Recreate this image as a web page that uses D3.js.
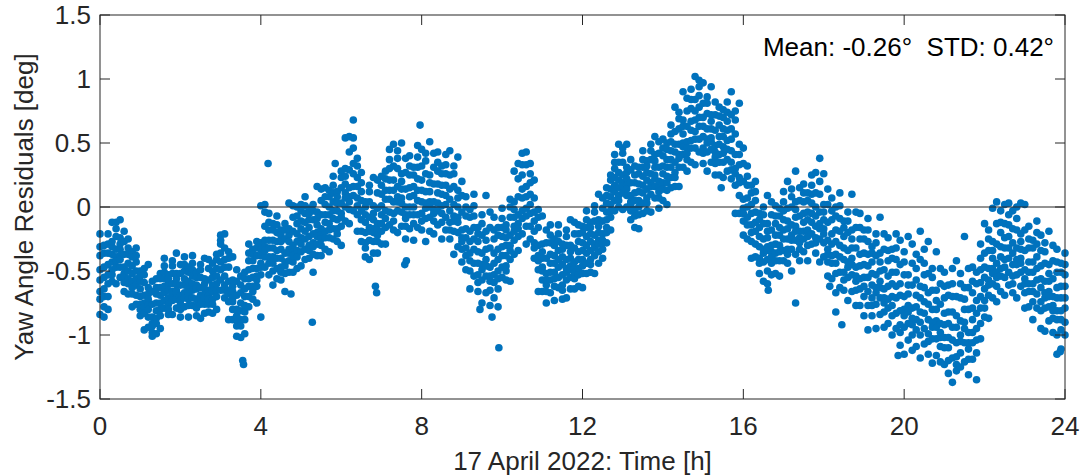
<!DOCTYPE html>
<html><head><meta charset="utf-8">
<script src="https://cdn.jsdelivr.net/npm/d3@7/dist/d3.min.js"></script>
<style>body{margin:0;background:#fff}svg{display:block}text{font-family:"Liberation Sans",Arial,sans-serif;fill:#262626}</style>
</head><body><svg id="c" width="1092" height="475"></svg>
<script>
const xTicks = [0,4,8,12,16,20,24];
const yTicks = [-1.5,-1,-0.5,0,0.5,1,1.5];
const yTickLabels = ["-1.5","-1","-0.5","0","0.5","1","1.5"];
const xLabel = "17 April 2022: Time [h]";
const yLabel = "Yaw Angle Residuals [deg]";
const statsText = "Mean: -0.26°  STD: 0.42°";

const hours = [0.0,0.1,0.2,0.3,0.4,0.5,0.6,0.7,0.8,0.9,1.0,1.1,1.2,1.3,1.4,1.5,1.6,1.7,1.8,1.9,
2.0,2.1,2.2,2.3,2.4,2.5,2.6,2.7,2.8,2.9,3.0,3.1,3.2,3.3,3.4,3.5,3.6,3.7,3.8,3.9,
4.0,4.1,4.2,4.3,4.4,4.5,4.6,4.7,4.8,4.9,5.0,5.1,5.2,5.3,5.4,5.5,5.6,5.7,5.8,5.9,
6.0,6.1,6.2,6.3,6.4,6.5,6.6,6.7,6.8,6.9,7.0,7.1,7.2,7.3,7.4,7.5,7.6,7.7,7.8,7.9,
8.0,8.1,8.2,8.3,8.4,8.5,8.6,8.7,8.8,8.9,9.0,9.1,9.2,9.3,9.4,9.5,9.6,9.7,9.8,9.9,
10.0,10.1,10.2,10.3,10.4,10.5,10.6,10.7,10.8,10.9,11.0,11.1,11.2,11.3,11.4,11.5,11.6,11.7,11.8,11.9,
12.0,12.1,12.2,12.3,12.4,12.5,12.6,12.7,12.8,12.9,13.0,13.1,13.2,13.3,13.4,13.5,13.6,13.7,13.8,13.9,
14.0,14.1,14.2,14.3,14.4,14.5,14.6,14.7,14.8,14.9,15.0,15.1,15.2,15.3,15.4,15.5,15.6,15.7,15.8,15.9,
16.0,16.1,16.2,16.3,16.4,16.5,16.6,16.7,16.8,16.9,17.0,17.1,17.2,17.3,17.4,17.5,17.6,17.7,17.8,17.9,
18.0,18.1,18.2,18.3,18.4,18.5,18.6,18.7,18.8,18.9,19.0,19.1,19.2,19.3,19.4,19.5,19.6,19.7,19.8,19.9,
20.0,20.1,20.2,20.3,20.4,20.5,20.6,20.7,20.8,20.9,21.0,21.1,21.2,21.3,21.4,21.5,21.6,21.7,21.8,21.9,
22.0,22.1,22.2,22.3,22.4,22.5,22.6,22.7,22.8,22.9,23.0,23.1,23.2,23.3,23.4,23.5,23.6,23.7,23.8,23.9,24.0];

const residuals = [
[-0.21,-0.38,-0.49,-0.57,-0.66,-0.72,-0.84,-0.31],
[-0.30,-0.47,-0.55,-0.64,-0.36,-0.78,-0.86,-0.70],
[-0.21,-0.36,-0.45,-0.53,-0.60,-0.70,-0.80,-0.29],
[-0.12,-0.31,-0.37,-0.43,-0.49,-0.27,-0.58,-0.53],
[-0.12,-0.17,-0.23,-0.33,-0.39,-0.42,-0.47,-0.60],
[-0.10,-0.29,-0.33,-0.38,-0.47,-0.24,-0.55,-0.41],
[-0.27,-0.19,-0.37,-0.47,-0.52,-0.59,-0.54,-0.66],
[-0.25,-0.37,-0.44,-0.50,-0.56,-0.60,-0.68,-0.32],
[-0.35,-0.46,-0.52,-0.58,-0.39,-0.68,-0.78,-0.63],
[-0.32,-0.43,-0.50,-0.56,-0.61,-0.69,-0.76,-0.38],
[-0.50,-0.58,-0.64,-0.70,-0.76,-0.54,-0.85,-0.80],
[-0.48,-0.53,-0.59,-0.69,-0.75,-0.78,-0.83,-0.96],
[-0.45,-0.68,-0.72,-0.77,-0.86,-0.63,-0.94,-0.80],
[-0.66,-0.58,-0.76,-0.86,-0.91,-0.98,-0.93,-1.01],
[-0.56,-0.68,-0.75,-0.81,-0.87,-0.91,-0.99,-0.63],
[-0.52,-0.63,-0.69,-0.75,-0.56,-0.85,-0.95,-0.80],
[-0.40,-0.51,-0.56,-0.62,-0.67,-0.73,-0.79,-0.46],
[-0.53,-0.60,-0.65,-0.71,-0.76,-0.56,-0.84,-0.80],
[-0.42,-0.46,-0.52,-0.60,-0.66,-0.68,-0.73,-0.84],
[-0.36,-0.56,-0.60,-0.65,-0.72,-0.52,-0.79,-0.67],
[-0.52,-0.45,-0.61,-0.69,-0.73,-0.80,-0.76,-0.86],
[-0.39,-0.50,-0.56,-0.61,-0.67,-0.71,-0.78,-0.45],
[-0.47,-0.58,-0.63,-0.68,-0.51,-0.77,-0.86,-0.72],
[-0.38,-0.49,-0.54,-0.60,-0.65,-0.71,-0.77,-0.44],
[-0.51,-0.61,-0.64,-0.72,-0.77,-0.55,-0.85,-0.79],
[-0.45,-0.49,-0.55,-0.63,-0.69,-0.71,-0.76,-0.87],
[-0.40,-0.60,-0.64,-0.69,-0.76,-0.56,-0.83,-0.71],
[-0.48,-0.41,-0.57,-0.65,-0.69,-0.76,-0.72,-0.82],
[-0.44,-0.55,-0.61,-0.66,-0.72,-0.76,-0.83,-0.50],
[-0.37,-0.48,-0.54,-0.60,-0.41,-0.70,-0.80,-0.65],
[-0.22,-0.29,-0.36,-0.43,-0.49,-0.57,-0.65,-0.26],
[-0.32,-0.41,-0.47,-0.54,-0.61,-0.21,-0.71,-0.65],
[-0.35,-0.40,-0.47,-0.58,-0.65,-0.68,-0.74,-0.88],
[-0.39,-0.62,-0.66,-0.71,-0.80,-0.57,-0.88,-0.74],
[-0.58,-0.49,-0.69,-0.80,-0.85,-0.93,-0.88,-1.01],
[-0.54,-0.67,-0.75,-0.81,-0.88,-0.93,-1.02,-0.61],
[-0.51,-0.64,-0.70,-0.77,-0.56,-0.88,-0.99,-0.82],
[-0.29,-0.42,-0.49,-0.56,-0.62,-0.70,-0.78,-0.36],
[-0.33,-0.42,-0.48,-0.55,-0.62,-0.37,-0.72,-0.66],
[-0.27,-0.32,-0.38,-0.48,-0.54,-0.57,-0.62,-0.75],
[0.01,-0.33,-0.38,-0.44,-0.53,-0.28,-0.86,-0.47],
[-0.04,0.02,-0.15,-0.26,-0.31,-0.39,-0.34,-0.47],
[-0.05,-0.18,-0.26,-0.32,-0.39,-0.44,-0.53,-0.12],
[-0.13,-0.26,-0.32,-0.39,-0.18,-0.50,-0.61,-0.44],
[-0.07,-0.20,-0.27,-0.34,-0.40,-0.48,-0.56,-0.14],
[-0.18,-0.27,-0.33,-0.40,-0.47,-0.22,-0.57,-0.51],
[-0.13,-0.18,-0.25,-0.36,-0.43,-0.46,-0.52,-0.66],
[0.03,-0.22,-0.27,-0.33,-0.42,-0.17,-0.51,-0.36],
[-0.08,0.01,-0.19,-0.30,-0.35,-0.43,-0.38,-0.51],
[0.00,-0.13,-0.21,-0.27,-0.34,-0.39,-0.48,-0.07],
[0.02,-0.11,-0.17,-0.24,-0.03,-0.35,-0.46,-0.29],
[0.08,-0.05,-0.12,-0.19,-0.25,-0.33,-0.41,0.01],
[-0.01,-0.10,-0.16,-0.23,-0.30,-0.05,-0.40,-0.34],
[0.02,-0.03,-0.10,-0.21,-0.28,-0.31,-0.37,-0.51],
[0.16,-0.09,-0.14,-0.20,-0.29,-0.04,-0.38,-0.23],
[0.05,0.14,-0.06,-0.17,-0.22,-0.30,-0.25,-0.38],
[0.15,0.02,-0.06,-0.12,-0.19,-0.24,-0.33,0.08],
[0.13,0.00,-0.06,-0.13,0.08,-0.24,-0.35,-0.18],
[0.24,0.11,0.04,-0.03,-0.09,-0.17,-0.25,0.17],
[0.12,0.03,-0.03,-0.10,-0.17,0.08,-0.27,-0.21],
[0.28,0.23,0.15,0.03,-0.05,-0.08,-0.15,-0.30],
[0.54,0.24,0.18,0.11,0.00,0.30,-0.11,0.07],
[0.43,0.55,0.29,0.15,0.08,-0.02,0.04,-0.13],
[0.68,0.46,0.34,0.26,0.16,0.09,-0.03,0.54],
[0.38,0.23,0.16,0.07,0.32,-0.06,-0.19,0.01],
[0.27,0.12,0.05,-0.03,-0.10,-0.19,-0.27,0.19],
[0.04,-0.06,-0.12,-0.20,-0.28,0.00,-0.39,-0.32],
[0.17,0.12,0.04,-0.08,-0.16,-0.19,-0.26,-0.41],
[0.23,-0.05,-0.10,-0.17,-0.27,0.01,-0.36,-0.20],
[0.11,0.21,-0.01,-0.13,-0.18,-0.27,-0.22,-0.36],
[0.24,0.10,0.01,-0.06,-0.13,-0.19,-0.29,0.17],
[0.28,0.13,0.06,-0.03,0.22,-0.16,-0.29,-0.09],
[0.45,0.30,0.21,0.13,0.06,-0.04,-0.14,0.37],
[0.32,0.21,0.13,0.04,-0.05,0.49,-0.18,-0.11],
[0.44,0.38,0.30,0.16,0.08,0.04,-0.03,-0.20],
[0.50,0.20,0.14,0.07,-0.04,0.26,-0.15,0.03],
[0.27,0.38,0.14,0.00,-0.06,-0.15,-0.09,-0.25],
[0.40,0.25,0.15,0.08,0.00,-0.06,-0.17,0.32],
[0.31,0.16,0.09,0.00,0.25,-0.13,-0.26,-0.06],
[0.48,0.31,0.22,0.13,0.05,-0.06,-0.16,0.39],
[0.32,0.21,0.13,0.04,-0.05,0.45,-0.18,-0.11],
[0.42,0.36,0.26,0.12,0.03,-0.01,-0.09,-0.27],
[0.51,0.19,0.12,0.04,-0.08,0.25,-0.19,0.00],
[0.31,0.42,0.18,0.04,-0.02,-0.11,-0.05,-0.21],
[0.43,0.28,0.18,0.11,0.03,-0.03,-0.14,0.35],
[0.32,0.17,0.10,0.01,0.26,-0.12,-0.25,-0.05],
[0.41,0.26,0.17,0.09,0.02,-0.08,-0.18,0.33],
[0.25,0.14,0.06,-0.03,-0.12,0.44,-0.25,-0.18],
[0.32,0.26,0.16,0.02,-0.07,-0.11,-0.19,-0.37],
[0.39,0.07,0.00,-0.08,-0.20,0.13,-0.31,-0.12],
[0.09,0.20,-0.04,-0.18,-0.24,-0.33,-0.27,-0.43],
[0.08,-0.07,-0.17,-0.24,-0.32,-0.38,-0.49,0.00],
[-0.02,-0.19,-0.27,-0.36,-0.08,-0.50,-0.64,-0.42],
[0.10,-0.07,-0.16,-0.25,-0.33,-0.44,-0.54,0.01],
[-0.16,-0.27,-0.35,-0.44,-0.53,-0.21,-0.66,-0.59],
[-0.06,-0.13,-0.22,-0.36,-0.45,-0.49,-0.57,-0.75],
[0.09,-0.26,-0.33,-0.41,-0.54,-0.19,-0.67,-0.46],
[-0.16,-0.04,-0.32,-0.47,-0.54,-0.65,-0.58,-0.77],
[-0.08,-0.25,-0.36,-0.44,-0.53,-0.59,-0.71,-0.18],
[-0.16,-0.33,-0.41,-0.50,-0.22,-0.64,-0.78,-0.56],
[-0.01,-0.16,-0.23,-0.31,-0.38,-0.47,-0.55,-0.09],
[-0.14,-0.24,-0.30,-0.38,-0.46,-0.18,-0.57,-0.50],
[0.06,0.00,-0.08,-0.22,-0.30,-0.34,-0.41,-0.58],
[0.28,-0.02,-0.08,-0.15,-0.26,0.04,-0.37,-0.19],
[0.22,0.34,0.08,-0.06,-0.13,-0.23,-0.17,-0.34],
[0.42,0.25,0.14,0.07,-0.03,-0.09,-0.21,0.33],
[0.33,0.16,0.08,-0.01,0.43,-0.15,-0.29,-0.07],
[0.34,0.19,0.10,0.02,-0.05,-0.15,-0.25,0.26],
[0.07,-0.04,-0.11,-0.19,-0.28,0.21,-0.40,-0.32],
[-0.02,-0.08,-0.16,-0.30,-0.38,-0.42,-0.49,-0.66],
[-0.07,-0.35,-0.40,-0.47,-0.57,-0.29,-0.66,-0.50],
[-0.28,-0.18,-0.40,-0.52,-0.57,-0.66,-0.61,-0.75],
[-0.14,-0.28,-0.37,-0.44,-0.51,-0.57,-0.67,-0.22],
[-0.25,-0.38,-0.44,-0.51,-0.30,-0.62,-0.73,-0.56],
[-0.14,-0.27,-0.34,-0.41,-0.47,-0.55,-0.63,-0.21],
[-0.29,-0.39,-0.45,-0.53,-0.61,-0.33,-0.72,-0.65],
[-0.18,-0.23,-0.30,-0.41,-0.48,-0.51,-0.57,-0.71],
[-0.10,-0.35,-0.40,-0.46,-0.55,-0.30,-0.64,-0.49],
[-0.21,-0.12,-0.32,-0.43,-0.48,-0.56,-0.51,-0.64],
[-0.14,-0.27,-0.35,-0.41,-0.48,-0.53,-0.62,-0.21],
[-0.15,-0.28,-0.34,-0.41,-0.20,-0.52,-0.63,-0.46],
[-0.03,-0.16,-0.23,-0.30,-0.36,-0.44,-0.52,-0.10],
[-0.12,-0.21,-0.27,-0.34,-0.41,-0.16,-0.51,-0.45],
[0.01,-0.04,-0.11,-0.22,-0.29,-0.32,-0.38,-0.52],
[0.10,-0.15,-0.20,-0.26,-0.35,-0.10,-0.44,-0.29],
[-0.01,0.07,-0.11,-0.21,-0.26,-0.33,-0.28,-0.40],
[0.15,0.03,-0.04,-0.10,-0.16,-0.20,-0.28,0.09],
[0.25,0.14,0.08,0.02,0.21,-0.08,-0.18,-0.03],
[0.41,0.30,0.23,0.17,0.12,0.05,-0.03,0.35],
[0.35,0.27,0.21,0.15,0.09,0.49,0.00,0.05],
[0.46,0.42,0.35,0.25,0.19,0.16,0.11,-0.02],
[0.49,0.27,0.22,0.17,0.09,0.31,0.00,0.14],
[0.29,0.37,0.19,0.09,0.04,-0.03,0.02,-0.10],
[0.32,0.19,0.11,0.05,-0.02,-0.07,-0.16,0.25],
[0.31,0.18,0.12,0.05,0.26,-0.06,-0.17,0.00],
[0.44,0.31,0.24,0.17,0.11,0.03,-0.05,0.37],
[0.36,0.27,0.21,0.14,0.07,0.32,-0.03,0.03],
[0.49,0.44,0.37,0.26,0.19,0.16,0.10,-0.04],
[0.55,0.36,0.31,0.25,0.16,0.41,0.07,0.22],
[0.42,0.51,0.31,0.20,0.15,0.07,0.12,-0.01],
[0.53,0.40,0.32,0.26,0.19,0.14,0.05,0.46],
[0.50,0.37,0.31,0.24,0.45,0.13,0.02,0.19],
[0.64,0.51,0.44,0.37,0.31,0.23,0.15,0.57],
[0.59,0.49,0.43,0.35,0.27,0.78,0.16,0.23],
[0.74,0.69,0.61,0.49,0.41,0.38,0.31,0.16],
[0.90,0.63,0.57,0.50,0.41,0.68,0.31,0.47],
[0.75,0.85,0.63,0.51,0.46,0.37,0.42,0.28],
[0.92,0.77,0.67,0.60,0.52,0.46,0.35,0.84],
[1.02,0.75,0.68,0.59,0.84,0.46,0.33,0.53],
[0.99,0.87,0.78,0.70,0.63,0.53,0.43,0.94],
[0.81,0.70,0.63,0.55,0.46,0.97,0.34,0.42],
[0.86,0.81,0.73,0.61,0.53,0.50,0.43,0.28],
[0.94,0.67,0.61,0.54,0.45,0.72,0.35,0.51],
[0.72,0.82,0.60,0.48,0.43,0.34,0.39,0.25],
[0.78,0.64,0.55,0.49,0.41,0.35,0.25,0.71],
[0.76,0.61,0.55,0.47,0.70,0.35,0.23,0.42],
[0.82,0.67,0.60,0.52,0.45,0.37,0.28,0.74],
[0.72,0.61,0.53,0.44,0.35,0.90,0.22,0.29],
[0.75,0.68,0.57,0.41,0.30,0.26,0.17,-0.05],
[0.81,0.41,0.33,0.23,0.09,0.49,-0.05,0.19],
[0.34,0.46,0.20,0.06,-0.01,-0.11,-0.05,-0.22],
[0.32,0.17,0.07,0.00,-0.08,-0.14,-0.25,0.24],
[0.17,0.02,-0.05,-0.14,0.11,-0.27,-0.40,-0.20],
[0.20,0.05,-0.04,-0.12,-0.19,-0.29,-0.39,0.12],
[-0.05,-0.16,-0.23,-0.31,-0.40,-0.10,-0.52,-0.44],
[0.00,-0.06,-0.13,-0.25,-0.33,-0.36,-0.43,-0.58],
[0.09,-0.19,-0.24,-0.31,-0.41,-0.13,-0.50,-0.34],
[-0.06,0.04,-0.18,-0.30,-0.35,-0.44,-0.39,-0.53],
[0.01,-0.13,-0.22,-0.29,-0.36,-0.42,-0.52,-0.07],
[-0.01,-0.16,-0.22,-0.30,-0.07,-0.42,-0.54,-0.35],
[0.12,-0.03,-0.10,-0.18,-0.25,-0.34,-0.42,0.04],
[-0.01,-0.11,-0.17,-0.25,-0.33,0.20,-0.44,-0.37],
[0.14,0.08,0.00,-0.14,-0.22,-0.26,-0.33,-0.50],
[0.28,-0.02,-0.08,-0.15,-0.26,0.04,-0.37,-0.19],
[0.05,0.15,-0.07,-0.19,-0.24,-0.33,-0.28,-0.42],
[0.18,0.04,-0.05,-0.12,-0.19,-0.25,-0.35,0.11],
[0.11,-0.04,-0.10,-0.18,0.05,-0.30,-0.42,-0.23],
[0.25,0.10,0.03,-0.05,-0.12,-0.21,-0.29,0.17],
[0.11,0.00,-0.07,-0.15,-0.24,0.27,-0.36,-0.28],
[0.38,0.20,0.10,-0.04,-0.13,-0.17,-0.25,-0.43],
[0.26,-0.04,-0.10,-0.17,-0.28,0.02,-0.39,-0.21],
[0.02,0.14,-0.12,-0.26,-0.33,-0.43,-0.37,-0.54],
[0.07,-0.10,-0.21,-0.29,-0.38,-0.44,-0.56,-0.03],
[0.00,-0.18,-0.27,-0.37,-0.07,-0.52,-0.67,-0.44],
[0.11,-0.09,-0.19,-0.30,-0.39,-0.51,-0.63,0.01],
[-0.11,-0.23,-0.32,-0.41,-0.51,-0.16,-0.65,-0.57],
[-0.04,-0.11,-0.20,-0.34,-0.43,-0.47,-0.55,-0.73],
[0.10,-0.25,-0.32,-0.40,-0.53,-0.18,-0.66,-0.45],
[-0.16,-0.04,-0.32,-0.47,-0.54,-0.65,-0.58,-0.77],
[-0.05,-0.25,-0.37,-0.46,-0.56,-0.64,-0.77,-0.16],
[-0.18,-0.36,-0.45,-0.55,-0.25,-0.70,-0.85,-0.62],
[-0.09,-0.27,-0.37,-0.46,-0.55,-0.66,-0.77,-0.18],
[-0.31,-0.43,-0.52,-0.61,-0.71,-0.36,-0.85,-0.77],
[-0.21,-0.28,-0.38,-0.53,-0.63,-0.67,-0.76,-0.95],
[-0.08,-0.43,-0.50,-0.58,-0.71,-0.36,-0.84,-0.63],
[-0.33,-0.21,-0.49,-0.64,-0.71,-0.82,-0.75,-0.94],
[-0.24,-0.42,-0.54,-0.62,-0.72,-0.79,-0.91,-0.34],
[-0.33,-0.51,-0.60,-0.70,-0.40,-0.85,-1.00,-0.77],
[-0.21,-0.41,-0.51,-0.62,-0.71,-0.83,-0.95,-0.32],
[-0.45,-0.60,-0.69,-0.81,-0.92,-0.26,-1.08,-0.98],
[-0.35,-0.43,-0.53,-0.70,-0.80,-0.85,-0.94,-1.15],
[-0.23,-0.61,-0.68,-0.77,-0.91,-0.53,-1.04,-0.82],
[-0.44,-0.29,-0.61,-0.79,-0.87,-1.00,-0.92,-1.12],
[-0.37,-0.57,-0.69,-0.78,-0.88,-0.96,-1.09,-0.48],
[-0.41,-0.62,-0.71,-0.82,-0.19,-1.00,-1.18,-0.90],
[-0.33,-0.53,-0.63,-0.74,-0.83,-0.95,-1.07,-0.44],
[-0.52,-0.67,-0.76,-0.88,-0.99,-0.27,-1.15,-1.05],
[-0.48,-0.55,-0.65,-0.80,-0.90,-0.94,-1.03,-1.22],
[-0.35,-0.73,-0.80,-0.89,-1.03,-0.65,-1.16,-0.94],
[-0.60,-0.48,-0.76,-0.91,-0.98,-1.09,-1.02,-1.21],
[-0.51,-0.71,-0.83,-0.92,-1.02,-1.10,-1.23,-0.62],
[-0.61,-0.82,-0.91,-1.02,-0.69,-1.20,-1.30,-1.10],
[-0.48,-0.70,-0.82,-0.94,-1.04,-1.18,-1.37,-0.60],
[-0.70,-0.85,-0.94,-1.06,-1.17,-0.42,-1.28,-1.23],
[-0.52,-0.60,-0.71,-0.89,-1.00,-1.05,-1.14,-1.25],
[-0.23,-0.72,-0.80,-0.90,-1.06,-0.63,-1.21,-0.95],
[-0.63,-0.48,-0.80,-0.98,-1.06,-1.19,-1.11,-1.31],
[-0.47,-0.67,-0.79,-0.88,-0.98,-1.06,-1.19,-0.58],
[-0.51,-0.73,-0.83,-0.95,-0.60,-1.14,-1.35,-1.04],
[-0.29,-0.49,-0.59,-0.70,-0.79,-0.91,-1.03,-0.40],
[-0.36,-0.47,-0.55,-0.64,-0.73,-0.13,-0.86,-0.79],
[-0.18,-0.25,-0.34,-0.48,-0.57,-0.61,-0.69,-0.87],
[-0.01,-0.34,-0.40,-0.48,-0.60,-0.27,-0.71,-0.52],
[-0.13,0.04,-0.29,-0.44,-0.51,-0.62,-0.55,-0.74],
[-0.03,-0.20,-0.31,-0.39,-0.48,-0.54,-0.66,-0.12],
[0.02,-0.24,-0.32,-0.41,-0.13,-0.55,-0.69,-0.47],
[0.03,-0.14,-0.23,-0.32,-0.40,-0.51,-0.61,-0.06],
[-0.17,-0.28,-0.36,-0.45,-0.54,-0.03,-0.67,-0.60],
[0.00,-0.09,-0.18,-0.32,-0.41,-0.45,-0.53,-0.71],
[0.03,-0.27,-0.33,-0.40,-0.51,-0.21,-0.62,-0.44],
[-0.18,0.02,-0.34,-0.49,-0.56,-0.67,-0.60,-0.79],
[-0.15,-0.32,-0.43,-0.51,-0.60,-0.66,-0.78,-0.25],
[-0.26,-0.43,-0.51,-0.60,-0.32,-0.74,-0.88,-0.66],
[-0.11,-0.29,-0.39,-0.48,-0.57,-0.68,-0.79,-0.20],
[-0.34,-0.46,-0.56,-0.63,-0.74,-0.22,-0.95,-0.81],
[-0.28,-0.35,-0.44,-0.58,-0.67,-0.71,-0.79,-0.97],
[-0.19,-0.52,-0.58,-0.66,-0.78,-0.45,-0.89,-0.70],
[-0.42,-0.30,-0.56,-0.70,-0.77,-0.87,-0.81,-0.98],
[-0.33,-0.51,-0.63,-0.71,-0.81,-0.88,-1.00,-0.43],
[-0.44,-0.62,-0.71,-0.81,-0.51,-0.96,-1.11,-0.88],
[-0.36,-0.53,-0.62,-0.71,-0.79,-0.90,-1.00,-0.45]];

const outlierHours = [3.55,3.57,4.18,4.75,5.28,5.85,6.85,6.88,7.58,7.62,7.96,9.45,9.75,9.92,15.45,16.6,16.62,17.3,18.15,18.3,18.45,19.1,19.85,23.8,23.88];
const outlierValues = [-1.20,-1.23,0.34,-0.68,-0.90,0.34,-0.62,-0.67,-0.45,-0.42,0.64,-0.80,-0.86,-1.10,0.15,-0.60,-0.65,-0.75,-0.62,-0.82,-0.92,-0.96,-1.16,-1.15,-1.13];

const svg = d3.select("#c");
const L = 100, R = 1065, T = 15, B = 399;
const x = d3.scaleLinear().domain([0,24]).range([L,R]);
const y = d3.scaleLinear().domain([-1.5,1.5]).range([B,T]);

const pts = [];
hours.forEach((h,i)=>residuals[i].forEach(v=>pts.push([h,v])));
outlierHours.forEach((h,i)=>pts.push([h,outlierValues[i]]));

svg.append("g").selectAll("circle").data(pts).join("circle")
  .attr("cx",d=>x(d[0])).attr("cy",d=>y(d[1])).attr("r",3.8).attr("fill","#0072BD");

svg.append("line").attr("x1",x(0)).attr("x2",x(24)).attr("y1",y(0)).attr("y2",y(0))
  .attr("stroke","#262626").attr("stroke-width",1);

const ax = "#262626", tl = 10;
const axes = svg.append("g");
axes.append("rect").attr("x",L).attr("y",T).attr("width",R-L).attr("height",B-T)
  .attr("fill","none").attr("stroke",ax).attr("stroke-width",1);
xTicks.forEach(t=>{
  axes.append("line").attr("x1",x(t)).attr("x2",x(t)).attr("y1",B).attr("y2",B-tl).attr("stroke",ax);
  axes.append("line").attr("x1",x(t)).attr("x2",x(t)).attr("y1",T).attr("y2",T+tl).attr("stroke",ax);
  axes.append("text").attr("x",x(t)).attr("y",435).attr("text-anchor","middle").attr("font-size",26).text(t);
});
yTicks.forEach((t,i)=>{
  axes.append("line").attr("x1",L).attr("x2",L+tl).attr("y1",y(t)).attr("y2",y(t)).attr("stroke",ax);
  axes.append("line").attr("x1",R).attr("x2",R-tl).attr("y1",y(t)).attr("y2",y(t)).attr("stroke",ax);
  axes.append("text").attr("x",91).attr("y",y(t)+9).attr("text-anchor","end").attr("font-size",26).text(yTickLabels[i]);
});
svg.append("text").attr("x",(L+R)/2).attr("y",470).attr("text-anchor","middle").attr("font-size",26).text(xLabel);
svg.append("text").attr("transform",`translate(33,${(T+B)/2}) rotate(-90)`).attr("text-anchor","middle").attr("font-size",26).text(yLabel);
svg.append("text").attr("x",1054).attr("y",56).attr("text-anchor","end").attr("font-size",26)
  .style("white-space","pre").style("fill","#000").text(statsText);
</script></body></html>
